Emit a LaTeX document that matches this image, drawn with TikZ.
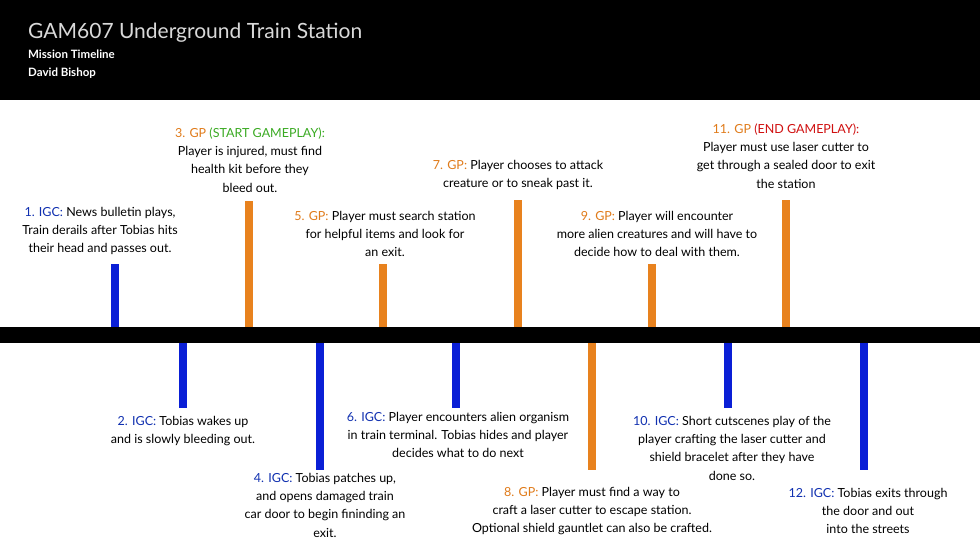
\documentclass[tikz,border=0pt]{standalone}
\usepackage{fontspec}
\setmainfont{Lato}
\begin{document}
\definecolor{bl}{HTML}{0A1FD6}
\definecolor{og}{HTML}{E8821E}
\definecolor{lb}{HTML}{1030B0}
\definecolor{lo}{HTML}{E07B1A}
\definecolor{gr}{HTML}{3AAA22}
\definecolor{rd}{HTML}{D01010}
\begin{tikzpicture}[x=1pt,y=-1pt,
  txt/.style={align=center,inner sep=0pt,font=\fontsize{12.5}{18.3}\selectfont},
  bbar/.style={fill=bl,draw=none},
  obar/.style={fill=og,draw=none}]
\useasboundingbox (0,0) rectangle (980,551);
\fill[white] (0,0) rectangle (980,551);
\fill[black] (0,0) rectangle (980,100);
\node[anchor=west,inner sep=0pt,text=black!15,font=\fontsize{21}{24}\selectfont] (title) at (28,33) {GAM607 Underground Train Station};
\node[anchor=west,inner sep=0pt,text=white,font=\bfseries\fontsize{11.5}{14}\selectfont] (sub1) at (28,54) {Mission Timeline};
\node[anchor=west,inner sep=0pt,text=white,font=\bfseries\fontsize{11.5}{14}\selectfont] (sub2) at (28,73) {David Bishop};
\fill[black] (0,327) rectangle (980,343);
% top bars
\fill[bbar] (111,264) rectangle (119,327);
\fill[obar] (245,201) rectangle (253,327);
\fill[obar] (379,264) rectangle (387,327);
\fill[obar] (514,200) rectangle (522,327);
\fill[obar] (648,264) rectangle (656,327);
\fill[obar] (782,200) rectangle (790,327);
% bottom bars
\fill[bbar] (179,343) rectangle (187,408);
\fill[bbar] (316,343) rectangle (324,470);
\fill[bbar] (452,343) rectangle (460,408);
\fill[obar] (588,343) rectangle (596,470);
\fill[bbar] (724,343) rectangle (732,408);
\fill[bbar] (860,343) rectangle (868,470);
% texts
\node[txt] (t1) at (100,231) {\textcolor{lb}{1. IGC:} News bulletin plays,\\Train derails after Tobias hits\\their head and passes out.};
\node[txt] (t3) at (250,160) {\textcolor{lo}{3. GP} \textcolor{gr}{(START GAMEPLAY):}\\Player is injured, must find\\health kit before they\\bleed out.};
\node[txt] (t5) at (385,234) {\textcolor{lo}{5. GP:} Player must search station\\for helpful items and look for\\an exit.};
\node[txt] (t7) at (518,175) {\textcolor{lo}{7. GP:} Player chooses to attack\\creature or to sneak past it.};
\node[txt] (t9) at (657,234) {\textcolor{lo}{9. GP:} Player will encounter\\more alien creatures and will have to\\decide how to deal with them.};
\node[txt] (t11) at (786,156) {\textcolor{lo}{11. GP} \textcolor{rd}{(END GAMEPLAY):}\\Player must use laser cutter to\\get through a sealed door to exit\\the station};
\node[txt] (t2) at (183,431) {\textcolor{lb}{2. IGC:} Tobias wakes up\\and is slowly bleeding out.};
\node[txt] (t4) at (325,505) {\textcolor{lb}{4. IGC:} Tobias patches up,\\and opens damaged train\\car door to begin fininding an\\exit.};
\node[txt] (t6) at (458,435) {\textcolor{lb}{6. IGC:} Player encounters alien organism\\in train terminal. Tobias hides and player\\decides what to do next};
\node[txt] (t8) at (592,511) {\textcolor{lo}{8. GP:} Player must find a way to\\craft a laser cutter to escape station.\\Optional shield gauntlet can also be crafted.};
\node[txt] (t10) at (732,448) {\textcolor{lb}{10. IGC:} Short cutscenes play of the\\player crafting the laser cutter and\\shield bracelet after they have\\done so.};
\node[txt] (t12) at (868,511) {\textcolor{lb}{12. IGC:} Tobias exits through\\the door and out\\into the streets};
\end{tikzpicture}
\end{document}
